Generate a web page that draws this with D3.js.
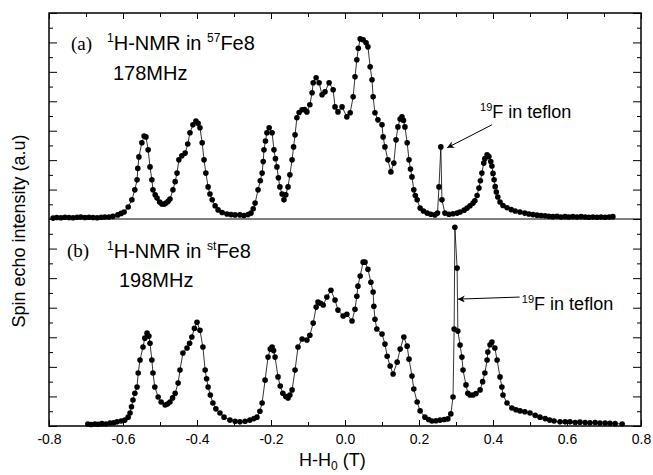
<!DOCTYPE html>
<html>
<head>
<meta charset="utf-8">
<script src="https://cdn.jsdelivr.net/npm/d3@7"></script>
<style>
  body { margin: 0; background: #fff; }
  text { font-family: "Liberation Sans", Arial, sans-serif; fill: #000; }
</style>
</head>
<body>
<svg id="graph" width="653" height="475"></svg>
<script>
// DATA (field in T, intensity in arbitrary units)
const fieldA = [-0.789,-0.779,-0.768,-0.757,-0.746,-0.735,-0.724,-0.714,-0.703,-0.692,-0.681,-0.670,-0.659,-0.649,-0.638,-0.627,
  -0.614,-0.605,-0.597,-0.586,-0.576,-0.568,-0.562,-0.560,-0.557,-0.549,-0.543,-0.538,-0.532,-0.527,-0.522,-0.519,-0.513,-0.508,
  -0.501,-0.495,-0.489,-0.484,-0.478,-0.473,-0.465,-0.459,-0.454,-0.449,-0.441,-0.432,-0.425,-0.419,-0.411,-0.403,-0.397,-0.392,
  -0.386,-0.381,-0.376,-0.370,-0.365,-0.359,-0.351,-0.343,-0.332,-0.319,-0.308,-0.297,-0.284,-0.273,-0.262,-0.254,-0.248,-0.243,
  -0.235,-0.229,-0.224,-0.221,-0.219,-0.215,-0.211,-0.205,-0.197,-0.192,-0.188,-0.184,-0.180,-0.176,-0.170,-0.165,-0.160,-0.154,
  -0.149,-0.143,-0.139,-0.135,-0.130,-0.124,-0.116,-0.109,-0.103,-0.095,-0.089,-0.086,-0.078,-0.070,-0.062,-0.054,-0.043,-0.032,
  -0.027,-0.019,-0.008,0.005,0.014,0.022,0.027,0.032,0.036,0.041,0.049,0.057,0.062,0.068,0.073,0.076,0.081,0.089,0.100,0.103,
  0.108,0.116,0.124,0.132,0.138,0.143,0.149,0.154,0.158,0.162,0.168,0.173,0.177,0.181,0.186,0.190,0.195,0.203,0.212,0.222,0.232,
  0.243,0.250,0.254,0.259,0.262,0.270,0.281,0.292,0.303,0.311,0.322,0.330,0.338,0.346,0.351,0.357,0.362,0.366,0.370,0.375,0.378,
  0.384,0.389,0.394,0.397,0.400,0.403,0.406,0.409,0.413,0.419,0.427,0.438,0.449,0.460,0.473,0.486,0.497,0.508,0.519,0.530,0.541,
  0.551,0.562,0.573,0.584,0.595,0.605,0.616,0.627,0.638,0.649,0.659,0.670,0.681,0.692,0.703,0.714,0.724];
const echoA = [0.03,0.05,0.04,0.06,0.05,0.04,0.06,0.07,0.05,0.06,0.05,0.04,0.06,0.07,0.07,0.09,
  0.14,0.19,0.24,0.41,0.65,0.99,1.33,1.72,2.11,2.59,2.82,2.79,2.35,1.77,1.33,0.99,0.82,0.71,
  0.58,0.51,0.50,0.54,0.60,0.68,0.99,1.27,1.56,2.01,2.15,2.24,2.55,2.93,3.20,3.33,3.25,3.10,
  2.59,2.01,1.56,1.09,0.85,0.65,0.45,0.31,0.22,0.17,0.15,0.14,0.14,0.12,0.15,0.20,0.35,0.54,
  0.99,1.30,1.56,1.95,2.35,2.65,2.93,3.10,2.93,2.35,2.05,1.77,1.40,1.09,0.85,0.65,0.82,1.09,
  1.50,2.01,2.45,2.86,3.44,3.62,3.71,3.72,3.64,3.88,4.29,4.63,4.80,4.63,4.22,4.32,4.63,4.39,
  3.81,3.64,3.81,3.47,3.61,4.15,4.83,5.41,5.80,6.12,6.09,5.99,5.85,5.17,4.73,4.15,3.61,3.37,3.20,2.79,
  2.45,2.01,1.60,1.90,2.69,3.13,3.40,3.47,3.35,3.13,2.59,2.01,1.70,1.43,0.99,0.80,0.65,0.37,0.27,0.20,0.16,
  0.14,0.20,1.09,2.45,0.65,0.20,0.16,0.18,0.20,0.24,0.30,0.37,0.45,0.54,0.62,0.80,1.05,1.30,1.56,1.90,2.05,
  2.18,2.12,1.95,1.80,1.55,1.33,1.10,0.92,0.75,0.58,0.46,0.38,0.32,0.27,0.24,0.20,0.17,0.15,0.13,0.12,0.11,
  0.09,0.08,0.09,0.07,0.08,0.07,0.08,0.07,0.08,0.07,0.06,0.07,0.06,0.07,0.06,0.07,0.08];

const fieldB = [-0.695,-0.686,-0.676,-0.667,-0.657,-0.646,-0.635,-0.625,-0.616,-0.605,-0.595,-0.586,-0.581,-0.577,-0.573,-0.568,
  -0.562,-0.559,-0.554,-0.546,-0.541,-0.535,-0.530,-0.527,-0.522,-0.519,-0.514,-0.505,-0.497,-0.486,-0.480,-0.473,-0.466,-0.459,
  -0.451,-0.446,-0.438,-0.427,-0.420,-0.414,-0.407,-0.400,-0.392,-0.384,-0.378,-0.374,-0.370,-0.364,-0.357,-0.349,-0.338,-0.327,
  -0.311,-0.297,-0.284,-0.270,-0.257,-0.246,-0.238,-0.230,-0.224,-0.216,-0.208,-0.202,-0.197,-0.193,-0.189,-0.181,-0.175,-0.168,
  -0.160,-0.154,-0.149,-0.143,-0.135,-0.127,-0.116,-0.103,-0.095,-0.086,-0.078,-0.073,-0.066,-0.059,-0.049,-0.038,-0.027,-0.019,
  -0.005,0.005,0.019,0.027,0.032,0.035,0.041,0.049,0.054,0.062,0.070,0.076,0.078,0.081,0.086,0.100,0.108,0.114,0.122,0.130,
  0.141,0.149,0.159,0.168,0.173,0.181,0.186,0.195,0.203,0.216,0.226,0.235,0.246,0.257,0.268,0.278,0.286,0.292,0.295,0.297,
  0.303,0.305,0.311,0.316,0.319,0.327,0.332,0.338,0.346,0.354,0.365,0.372,0.378,0.384,0.386,0.392,0.397,0.405,0.411,0.419,
  0.424,0.427,0.438,0.451,0.462,0.473,0.486,0.500,0.514,0.527,0.541,0.553,0.565,0.581,0.595,0.608,0.622,0.635,0.649,0.662,
  0.676,0.689,0.703,0.716,0.730,0.749];
const echoB = [0.07,0.05,0.07,0.06,0.08,0.07,0.10,0.11,0.14,0.17,0.20,0.30,0.44,0.65,0.88,1.11,
  1.32,1.79,2.23,2.67,2.97,3.14,3.04,2.80,2.23,1.79,1.32,0.98,0.81,0.71,0.74,0.81,0.95,1.11,
  1.45,1.89,2.47,2.64,2.80,3.01,3.30,3.51,3.24,2.67,1.89,1.60,1.32,1.05,0.78,0.58,0.44,0.30,
  0.20,0.16,0.14,0.16,0.20,0.25,0.30,0.50,0.78,1.55,2.33,2.60,2.67,2.55,2.33,1.66,1.35,1.11,
  1.00,0.95,1.05,1.22,1.89,2.67,2.94,2.91,3.07,3.48,4.02,4.19,4.15,4.09,4.36,4.59,4.26,3.92,
  3.72,3.78,3.55,3.95,4.39,4.73,5.07,5.54,5.54,5.30,4.86,4.53,4.05,3.61,3.28,3.11,2.77,2.36,2.03,1.76,
  2.16,2.60,3.01,2.70,2.26,1.69,1.25,0.81,0.51,0.30,0.22,0.17,0.18,0.20,0.22,0.24,0.41,0.98,3.28,6.72,
  5.34,3.21,2.74,2.33,1.89,1.39,1.11,1.05,1.05,1.10,1.22,1.50,1.79,2.23,2.50,2.75,2.84,2.64,2.23,1.66,
  1.32,1.05,0.78,0.61,0.55,0.51,0.48,0.44,0.36,0.30,0.25,0.20,0.17,0.14,0.14,0.14,0.12,0.13,0.12,0.11,
  0.12,0.10,0.10,0.09,0.08,0.07];

const xTicks = [-0.8, -0.6, -0.4, -0.2, 0.0, 0.2, 0.4, 0.6, 0.8];
const xMinorTicks = [-0.7, -0.5, -0.3, -0.1, 0.1, 0.3, 0.5, 0.7];
const yTicks = [0, 1, 2, 3, 4, 5, 6, 7];
const yMinorTicks = [0.5, 1.5, 2.5, 3.5, 4.5, 5.5, 6.5];

// LAYOUT
const SVG = d3.select('#graph');
const LEFT = 49;
const RIGHT = 641;
const TOP = 13;
const MIDDLE = 219;
const BOTTOM = 426;
const DOT_RADIUS = 2.8;

const x = d3.scaleLinear().domain([-0.8, 0.8]).range([LEFT, RIGHT]);
const yA = d3.scaleLinear().domain([0, 7]).range([MIDDLE, TOP]);
const yB = d3.scaleLinear().domain([0, 7]).range([BOTTOM, MIDDLE]);

SVG.append('defs').append('marker')
  .attr('id', 'arrow')
  .attr('viewBox', '0 0 10 10')
  .attr('refX', 10)
  .attr('refY', 5)
  .attr('markerWidth', 9)
  .attr('markerHeight', 7)
  .attr('markerUnits', 'userSpaceOnUse')
  .attr('orient', 'auto')
  .append('path')
  .attr('d', 'M0,0 L10,5 L0,10 L3,5 Z')
  .attr('fill', '#000');

// FUNCTIONS

function styleAxis(g) {
  g.select('.domain').remove();
  g.selectAll('line').attr('stroke', '#000').attr('stroke-width', 1);
  g.selectAll('text').style('font-size', '14px').style('font-family', '"Liberation Sans", Arial, sans-serif');
}

function drawYTicks(y) {
  SVG.append('g').attr('transform', `translate(${LEFT},0)`)
    .call(d3.axisLeft(y).tickValues(yTicks).tickSize(-8).tickFormat('')).call(styleAxis);
  SVG.append('g').attr('transform', `translate(${LEFT},0)`)
    .call(d3.axisLeft(y).tickValues(yMinorTicks).tickSize(-4).tickFormat('')).call(styleAxis);
  SVG.append('g').attr('transform', `translate(${RIGHT},0)`)
    .call(d3.axisRight(y).tickValues(yTicks).tickSize(-8).tickFormat('')).call(styleAxis);
  SVG.append('g').attr('transform', `translate(${RIGHT},0)`)
    .call(d3.axisRight(y).tickValues(yMinorTicks).tickSize(-4).tickFormat('')).call(styleAxis);
}

function drawSpectrum(fields, echoes, y) {
  const points = fields.map((f, i) => ({ f: f, e: echoes[i] }));
  const line = d3.line().x(d => x(d.f)).y(d => y(d.e));

  SVG.append('path')
    .datum(points)
    .attr('d', line)
    .attr('fill', 'none')
    .attr('stroke', '#000')
    .attr('stroke-width', 0.8);

  SVG.append('g')
    .selectAll('circle')
    .data(points)
    .join('circle')
    .attr('cx', d => x(d.f))
    .attr('cy', d => y(d.e))
    .attr('r', DOT_RADIUS)
    .attr('fill', '#000');
}

function drawLabel(px, py, parts) {
  const t = SVG.append('text').attr('x', px).attr('y', py);
  parts.forEach(p => {
    const s = t.append('tspan').text(p.text);
    if (p.size) s.style('font-size', p.size + 'px');
    if (p.dy) s.attr('dy', p.dy);
    if (p.serif) s.style('font-family', '"Liberation Serif", "Times New Roman", serif');
  });
  return t;
}

function drawArrow(y, from, to) {
  SVG.append('line')
    .attr('x1', x(from[0])).attr('y1', y(from[1]))
    .attr('x2', x(to[0])).attr('y2', y(to[1]))
    .attr('stroke', '#000')
    .attr('stroke-width', 1)
    .attr('marker-end', 'url(#arrow)');
}

// AXES

SVG.append('g').attr('transform', `translate(0,${BOTTOM})`)
  .call(d3.axisBottom(x).tickValues(xTicks).tickSize(-6).tickPadding(8).tickFormat(d => d.toFixed(1)))
  .call(styleAxis);
SVG.append('g').attr('transform', `translate(0,${BOTTOM})`)
  .call(d3.axisBottom(x).tickValues(xMinorTicks).tickSize(-4).tickFormat(''))
  .call(styleAxis);
SVG.append('g').attr('transform', `translate(0,${TOP})`)
  .call(d3.axisTop(x).tickValues(xTicks).tickSize(-6).tickFormat(''))
  .call(styleAxis);
SVG.append('g').attr('transform', `translate(0,${TOP})`)
  .call(d3.axisTop(x).tickValues(xMinorTicks).tickSize(-4).tickFormat(''))
  .call(styleAxis);

drawYTicks(yA);
drawYTicks(yB);

SVG.append('rect')
  .attr('x', LEFT).attr('y', TOP)
  .attr('width', RIGHT - LEFT).attr('height', BOTTOM - TOP)
  .attr('fill', 'none').attr('stroke', '#000').attr('stroke-width', 1.5);
SVG.append('line')
  .attr('x1', LEFT).attr('x2', RIGHT).attr('y1', MIDDLE).attr('y2', MIDDLE)
  .attr('stroke', '#000').attr('stroke-width', 1);

// SPECTRA

drawSpectrum(fieldA, echoA, yA);
drawSpectrum(fieldB, echoB, yB);

// ANNOTATIONS

drawLabel(71, 50, [{ text: '(a)', size: 19, serif: true }]);
drawLabel(107, 50, [
  { text: '1', size: 12, dy: -8 },
  { text: 'H-NMR in ', size: 20, dy: 8 },
  { text: '57', size: 12, dy: -8 },
  { text: 'Fe8', size: 20, dy: 8 }
]);
drawLabel(113, 80, [{ text: '178MHz', size: 20 }]);

drawLabel(67, 257, [{ text: '(b)', size: 19, serif: true }]);
drawLabel(107, 258, [
  { text: '1', size: 12, dy: -8 },
  { text: 'H-NMR in ', size: 20, dy: 8 },
  { text: 'st', size: 12, dy: -8 },
  { text: 'Fe8', size: 20, dy: 8 }
]);
drawLabel(119, 287, [{ text: '198MHz', size: 20 }]);

drawLabel(x(0.365), yA(3.43), [
  { text: '19', size: 11, dy: -7 },
  { text: 'F in teflon', size: 18, dy: 7 }
]);
drawArrow(yA, [0.397, 3.2], [0.276, 2.42]);

drawLabel(x(0.478), yB(3.92), [
  { text: '19', size: 11, dy: -7 },
  { text: 'F in teflon', size: 18, dy: 7 }
]);
drawArrow(yB, [0.472, 4.36], [0.305, 4.29]);

SVG.append('text')
  .attr('transform', `translate(25,231) rotate(-90)`)
  .attr('text-anchor', 'middle')
  .style('font-size', '18px')
  .text('Spin echo intensity (a.u)');

drawLabel(299, 466, [
  { text: 'H-H', size: 18 },
  { text: '0', size: 12, dy: 4 },
  { text: ' (T)', size: 18, dy: -4 }
]);
</script>
</body>
</html>
